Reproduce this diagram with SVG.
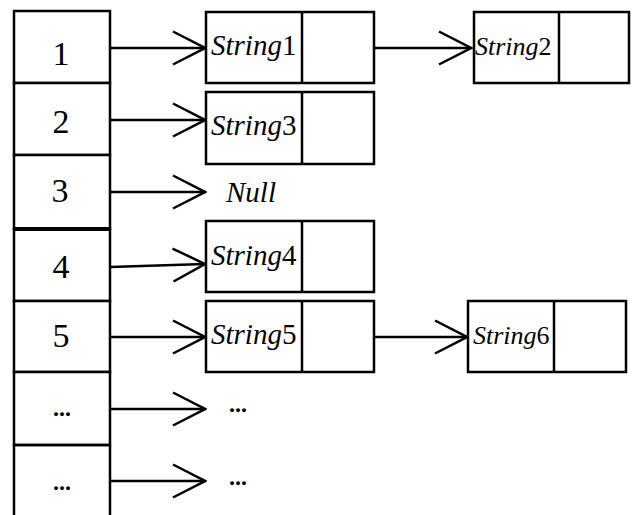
<svg xmlns="http://www.w3.org/2000/svg" width="633" height="515" viewBox="0 0 633 515">
<style>
.box{fill:#fff;stroke:#000;stroke-width:2.5}
.ln{fill:none;stroke:#000;stroke-width:2.5}
.num{font-family:"Liberation Serif","Times New Roman",serif;font-size:34px;text-anchor:middle;fill:#000}
.str{font-family:"Liberation Serif","Times New Roman",serif;font-size:29px;font-style:italic;fill:#000}
.str2{font-family:"Liberation Serif","Times New Roman",serif;font-size:26px;font-style:italic;fill:#000}
.dig{font-style:normal}
.dots{font-family:"Liberation Serif","Times New Roman",serif;font-size:24px;font-weight:bold;text-anchor:middle;fill:#000}
.conn{fill:none;stroke:#000;stroke-width:2.5;marker-end:url(#chev)}
</style>
<defs>
<marker id="chev" markerUnits="userSpaceOnUse" viewBox="-34 -19 36 38" markerWidth="36" markerHeight="38" refX="0" refY="0" orient="auto">
<path d="M-32,-16.5 L0,0 L-32,16.5" fill="none" stroke="#000" stroke-width="2.5"/>
</marker>
</defs>
<rect width="633" height="515" fill="#fff"/>
<g id="table">
<g id="cell1"><rect class="box" x="14" y="11" width="96" height="72"/><text class="num" x="61" y="65">1</text></g>
<g id="cell2"><rect class="box" x="14" y="83" width="96" height="72"/><text class="num" x="61" y="133">2</text></g>
<g id="cell3"><rect class="box" x="14" y="155" width="96" height="74"/><text class="num" x="60" y="202">3</text></g>
<g id="cell4"><rect class="box" x="14" y="229" width="96" height="72"/><text class="num" x="61" y="278">4</text></g>
<g id="cell5"><rect class="box" x="14" y="301" width="96" height="71"/><text class="num" x="61" y="347">5</text></g>
<g id="cell6"><rect class="box" x="14" y="372" width="96" height="73"/><text class="dots" x="62" y="416">...</text></g>
<g id="cell7"><path class="ln" d="M14,445 L110,445 M14,445 L14,516 M110,445 L110,516"/><text class="dots" x="62" y="490">...</text></g>
<line x1="14" y1="229" x2="110" y2="229" stroke="#000" stroke-width="4"/>
</g>
<g id="string1"><rect class="box" x="206" y="12" width="168" height="71"/><line class="ln" x1="302" y1="12" x2="302" y2="83"/><text class="str" x="211" y="55">String<tspan class="dig">1</tspan></text></g>
<g id="string2"><rect class="box" x="474" y="12" width="155" height="71"/><line class="ln" x1="559" y1="12" x2="559" y2="83"/><text class="str2" x="475" y="55">String<tspan class="dig">2</tspan></text></g>
<g id="string3"><rect class="box" x="206" y="92" width="168" height="72"/><line class="ln" x1="302" y1="92" x2="302" y2="164"/><text class="str" x="211" y="135">String<tspan class="dig">3</tspan></text></g>
<g id="null"><text class="str" x="226" y="202">Null</text></g>
<g id="string4"><rect class="box" x="206" y="221" width="168" height="71"/><line class="ln" x1="302" y1="221" x2="302" y2="292"/><text class="str" x="211" y="265">String<tspan class="dig">4</tspan></text></g>
<g id="string5"><rect class="box" x="206" y="301" width="168" height="71"/><line class="ln" x1="302" y1="301" x2="302" y2="372"/><text class="str" x="211" y="344">String<tspan class="dig">5</tspan></text></g>
<g id="string6"><rect class="box" x="468" y="301" width="158" height="71"/><line class="ln" x1="554" y1="301" x2="554" y2="372"/><text class="str2" x="473" y="344">String<tspan class="dig">6</tspan></text></g>
<g id="more1"><text class="dots" x="238" y="412">...</text></g>
<g id="more2"><text class="dots" x="238" y="485">...</text></g>
<g id="connectors">
<line class="conn" x1="110" y1="48" x2="205" y2="48"/>
<line class="conn" x1="110" y1="120" x2="205" y2="120"/>
<line class="conn" x1="110" y1="192" x2="205" y2="192"/>
<line class="conn" x1="110" y1="267" x2="205" y2="264"/>
<line class="conn" x1="110" y1="337" x2="205" y2="337"/>
<line class="conn" x1="110" y1="409" x2="205" y2="409"/>
<line class="conn" x1="110" y1="481" x2="205" y2="481"/>
<line class="conn" x1="374" y1="48" x2="471" y2="48"/>
<line class="conn" x1="374" y1="337" x2="467" y2="337"/>
</g>
</svg>
